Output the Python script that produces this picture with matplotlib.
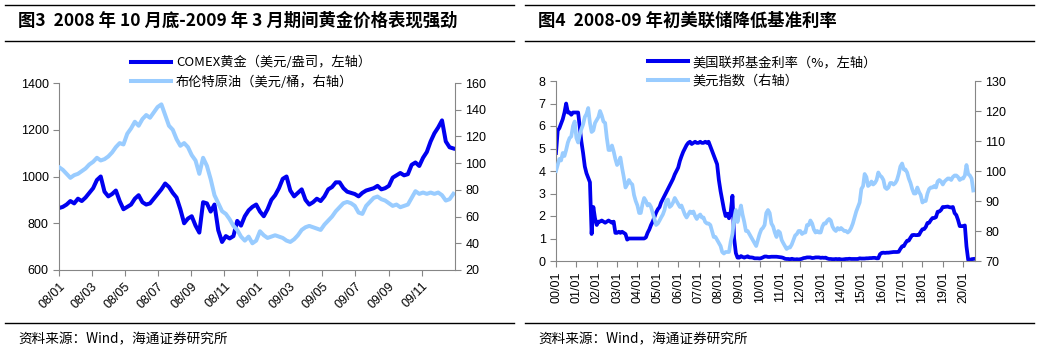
import matplotlib
matplotlib.use('Agg')
import matplotlib.pyplot as plt
import matplotlib.dates as mdates
from matplotlib.lines import Line2D
import pandas as pd

CJK = ['Noto Sans CJK SC', 'DejaVu Sans']
plt.rcParams['font.family'] = ['Liberation Sans', 'DejaVu Sans']

# ---- 图3 data: weekly, from 2008-01-01 ----
gold = [865, 870, 880, 895, 885, 905, 895, 910, 930, 950, 985, 1000, 935, 915, 925,
        940, 895, 860, 870, 880, 905, 920, 890, 880, 885, 905, 925, 945, 970, 955,
        930, 910, 860, 800, 820, 830, 790, 760, 890, 885, 850, 880, 770, 720, 745,
        735, 745, 810, 790, 830, 855, 870, 880, 850, 830, 860, 900, 920, 950, 990,
        1000, 940, 915, 930, 945, 900, 880, 890, 905, 895, 915, 945, 955, 975, 975,
        950, 935, 930, 925, 915, 930, 940, 945, 950, 960, 945, 950, 960, 995, 1005,
        1015, 1005, 1010, 1050, 1060, 1045, 1080, 1105, 1150, 1185, 1210, 1240, 1150, 1125, 1120]
brent = [97, 95, 92, 89, 91, 92, 94, 96, 99, 101, 104, 102, 103, 105, 108,
         112, 115, 114, 122, 126, 131, 128, 133, 136, 134, 138, 142, 144, 136, 128,
         125, 118, 113, 115, 112, 106, 102, 92, 104, 98, 88, 76, 70, 64, 62,
         58, 53, 50, 45, 42, 45, 40, 42, 49, 46, 44, 45, 46, 45, 44,
         42, 41, 43, 46, 50, 52, 53, 52, 51, 50, 54, 57, 60, 64, 67,
         70, 71, 70, 68, 63, 62, 68, 71, 74, 75, 73, 72, 70, 68, 69,
         67, 68, 69, 74, 79, 77, 78, 77, 78, 77, 78, 76, 72, 73, 77]
weeks = pd.date_range('2008-01-01', periods=len(gold), freq='7D')

# ---- 图4 data: monthly, from 2000-01 ----
fed = [4.8, 5.8, 5.9, 6.1, 6.3, 6.6, 7.0, 6.6, 6.6, 6.5, 6.6, 6.6,
       6.6, 6.6, 6.0, 5.3, 4.8, 4.2, 3.9, 3.7, 3.5, 1.2, 2.4, 1.9,
       1.6, 1.75, 1.75, 1.8, 1.75, 1.7, 1.75, 1.8, 1.75, 1.7, 1.75, 1.25,
       1.25, 1.3, 1.25, 1.3, 1.25, 1.2, 0.95, 1.0, 1.0, 1.0, 1.0, 1.0,
       1.0, 1.0, 1.0, 1.0, 1.0, 1.05, 1.25, 1.4, 1.6, 1.75, 1.95, 2.15,
       2.3, 2.4, 2.6, 2.75, 2.9, 3.05, 3.2, 3.35, 3.5, 3.65, 3.85, 4.0,
       4.15, 4.45, 4.65, 4.85, 5.0, 5.15, 5.25, 5.3, 5.2, 5.25, 5.3, 5.25,
       5.25, 5.3, 5.25, 5.25, 5.3, 5.25, 5.3, 5.1, 4.9, 4.7, 4.5, 4.3,
       3.6, 3.1, 2.7, 2.3, 2.0, 2.1, 1.9, 2.2, 2.9, 1.0, 0.35, 0.15,
       0.15, 0.22, 0.18, 0.15, 0.18, 0.21, 0.16, 0.16, 0.15, 0.12, 0.12, 0.12,
       0.11, 0.13, 0.16, 0.2, 0.2, 0.18, 0.18, 0.19, 0.19, 0.19, 0.19, 0.18,
       0.17, 0.16, 0.14, 0.1, 0.09, 0.09, 0.07, 0.1, 0.08, 0.07, 0.08, 0.07,
       0.08, 0.1, 0.13, 0.14, 0.16, 0.16, 0.16, 0.13, 0.14, 0.16, 0.16, 0.16,
       0.14, 0.15, 0.14, 0.15, 0.11, 0.09, 0.09, 0.08, 0.08, 0.09, 0.08, 0.09,
       0.07, 0.07, 0.08, 0.09, 0.09, 0.1, 0.09, 0.09, 0.09, 0.09, 0.09, 0.12,
       0.11, 0.11, 0.11, 0.12, 0.12, 0.13, 0.13, 0.14, 0.14, 0.12, 0.12, 0.3,
       0.36, 0.37, 0.36, 0.37, 0.37, 0.38, 0.39, 0.4, 0.4, 0.4, 0.41, 0.54,
       0.65, 0.66, 0.79, 0.9, 0.91, 1.04, 1.15, 1.16, 1.15, 1.15, 1.16, 1.3,
       1.41, 1.42, 1.51, 1.69, 1.7, 1.82, 1.91, 1.91, 1.95, 2.19, 2.2, 2.27,
       2.4, 2.4, 2.41, 2.42, 2.39, 2.38, 2.4, 2.13, 2.04, 1.83, 1.55, 1.55,
       1.55, 1.58, 0.65, 0.05, 0.05, 0.08, 0.09]
dxy = [100, 102, 104, 103.5, 106, 105, 107, 109.5, 111, 111.5, 115, 116.5,
       111, 109.5, 112, 114, 115.5, 118, 119, 121, 116, 113, 113.5, 116,
       117, 118, 120, 118.5, 116.5, 116, 111, 107, 107, 108.5, 106.5, 104,
       102, 103, 104.5, 101, 98, 94.5, 95.5, 97, 96, 95.5, 92, 90,
       88.5, 86, 86, 89, 91, 90, 88.5, 89, 88, 86, 84, 82,
       82.5, 83.5, 84.5, 85.5, 87, 90, 90.5, 88, 88.5, 89.5, 91, 90,
       89, 88, 88.5, 87, 85.5, 84.5, 85.5, 86.5, 86, 86.5, 85, 84,
       85, 85.5, 84.5, 84.5, 83, 82.5, 82.5, 82, 80, 78, 78, 77,
       76, 75, 73, 72.5, 73, 73, 73, 76.5, 79, 84, 87, 83,
       86, 88.5, 85.5, 83, 80, 80, 79, 78, 77, 76, 75, 77,
       79, 80.5, 81, 82, 86, 87, 86, 82.5, 81.5, 79.5, 78, 80,
       79.5, 77, 76, 75, 74, 74.5, 74.5, 75.5, 77, 78.5, 79, 80,
       80, 79, 79.5, 79.5, 82, 82, 83.5, 82.5, 80.5, 79.5, 80, 79.5,
       79.5, 81.5, 82.5, 82.5, 83.5, 84, 83.5, 81.5, 80.5, 80, 81, 80.5,
       81, 80.5, 80, 80, 79.5, 80, 81, 82.5, 84.5, 86.5, 88, 89.5,
       94, 95, 99, 98, 95, 95.5, 96.5, 95.5, 96, 97, 99.5, 98.5,
       98, 97, 94.5, 94, 94.5, 96, 96, 95.5, 96, 97, 99, 101.5,
       102.5, 100.5, 100.5, 99.5, 97.5, 96, 94, 92.5, 92.5, 94.5, 93, 92,
       89.5, 90, 90, 92.5, 94, 94.5, 94.5, 95, 94.5, 96.5, 97, 96.5,
       95.5, 96.5, 97, 97.5, 97.5, 97, 98, 98.5, 98.5, 98, 97, 97.5,
       97.5, 98.5, 102, 99, 98.5, 97.5, 93.5]
months = pd.date_range('2000-01-01', periods=len(fed), freq='MS')

DARK = '#0000F0'
LIGHT = '#99CCFF'
GREY = '#868686'

fig = plt.figure(figsize=(10.44, 3.51), dpi=100)


def style(ax, ax2):
    for a in (ax, ax2):
        a.spines['top'].set_visible(False)
        for s in ('left', 'right', 'bottom'):
            a.spines[s].set_color(GREY)
        a.tick_params(colors=GREY, labelcolor='black', labelsize=9, length=4, direction='out')
    ax.spines['right'].set_visible(False)
    ax2.spines['left'].set_visible(False)
    ax2.spines['bottom'].set_visible(False)
    ax.patch.set_visible(False)


# ---- 图3 ----
ax = fig.add_axes([59/1044, 1-270/351, (455-59)/1044, (270-83)/351])
ax2 = ax.twinx()
ax.plot(weeks, gold, color=DARK, lw=2.9, solid_joinstyle='round')
ax2.plot(weeks, brent, color=LIGHT, lw=2.9, solid_joinstyle='round')
ax.set_zorder(0)
ax2.set_zorder(1)
ax.set_ylim(600, 1400)
ax.set_yticks(range(600, 1401, 200))
ax2.set_ylim(20, 160)
ax2.set_yticks(range(20, 161, 20))
ax.set_xlim(pd.Timestamp('2008-01-01'), pd.Timestamp('2010-01-01'))
ax.set_xticks(pd.date_range('2008-01-01', '2009-11-01', freq='2MS'))
ax.xaxis.set_major_formatter(mdates.DateFormatter('%y/%m'))
plt.setp(ax.get_xticklabels(), rotation=45, ha='right', rotation_mode='anchor')
style(ax, ax2)

fig.legend([Line2D([], [], color=DARK, lw=2.9), Line2D([], [], color=LIGHT, lw=2.9)],
           ['COMEX黄金（美元/盎司，左轴）', '布伦特原油（美元/桶，右轴）'],
           loc='upper left', bbox_to_anchor=(131/1044, 1-56/351), frameon=False,
           borderpad=0, borderaxespad=0, handlelength=3.0, handletextpad=0.4,
           labelspacing=0.45, prop={'family': CJK, 'size': 9.5})

# ---- 图4 ----
bx = fig.add_axes([556/1044, 1-261/351, (975-556)/1044, (261-81)/351])
bx2 = bx.twinx()
bx.plot(months, fed, color=DARK, lw=2.7, solid_joinstyle='round')
bx2.plot(months, dxy, color=LIGHT, lw=2.7, solid_joinstyle='round')
bx.set_zorder(0)
bx2.set_zorder(1)
bx.set_ylim(0, 8)
bx.set_yticks(range(0, 9))
bx2.set_ylim(70, 130)
bx2.set_yticks(range(70, 131, 10))
bx.set_xlim(pd.Timestamp('2000-01-01'), pd.Timestamp('2020-08-01'))
bx.set_xticks(pd.date_range('2000-01-01', '2020-01-01', freq='YS'))
bx.xaxis.set_major_formatter(mdates.DateFormatter('%y/%m'))
plt.setp(bx.get_xticklabels(), rotation=90)
style(bx, bx2)

fig.legend([Line2D([], [], color=DARK, lw=2.9), Line2D([], [], color=LIGHT, lw=2.9)],
           ['美国联邦基金利率（%，左轴）', '美元指数（右轴）'],
           loc='upper left', bbox_to_anchor=(648/1044, 1-56/351), frameon=False,
           borderpad=0, borderaxespad=0, handlelength=3.0, handletextpad=0.4,
           labelspacing=0.45, prop={'family': CJK, 'size': 9.5})

# ---- titles, rules, sources ----
for x0, x1, title in [(5, 514, '图3  2008 年 10 月底-2009 年 3 月期间黄金价格表现强劲'),
                      (525, 1034, '图4  2008-09 年初美联储降低基准利率')]:
    for y in (5, 41, 323):
        fig.add_artist(Line2D([x0/1044, x1/1044], [1-y/351, 1-y/351], color='black', lw=1))
    fig.text((x0 + 13)/1044, 1-21/351, title, family=CJK, fontsize=12.5,
             fontweight='bold', va='center', ha='left')
    fig.text((x0 + 13)/1044, 1-339/351, '资料来源：Wind，海通证券研究所', family=CJK,
             fontsize=9.8, va='center', ha='left')

fig.savefig('out.png', dpi=100)
